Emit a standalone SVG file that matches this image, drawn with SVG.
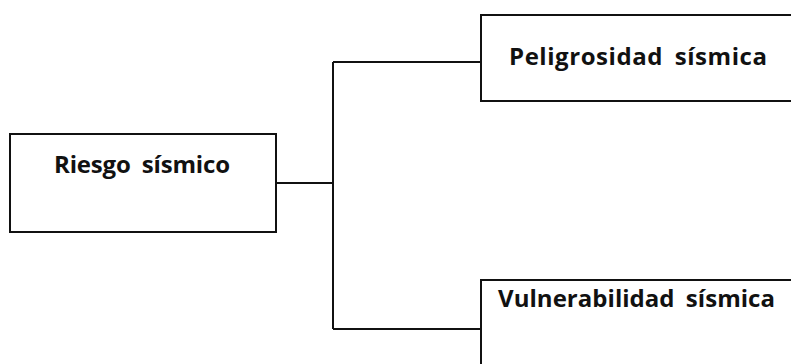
<svg xmlns="http://www.w3.org/2000/svg" width="791" height="364" viewBox="0 0 791 364">
<style>
.box{fill:#fff;stroke:#111;stroke-width:2}
.lbl{font-family:"Open Sans","Liberation Sans",sans-serif;font-weight:bold;font-size:24px;fill:#111;word-spacing:5px}
.con{fill:none;stroke:#111;stroke-width:2}
</style>
<rect width="791" height="364" fill="#fff"/>
<g id="connectors">
<path class="con" d="M276,183 H333"/>
<path class="con" d="M333,62 V329"/>
<path class="con" d="M333,62 H481"/>
<path class="con" d="M333,329 H481"/>
</g>
<g id="riesgo">
<rect class="box" x="10" y="134" width="266" height="98"/>
<text class="lbl" x="54" y="173" textLength="176" lengthAdjust="spacing">Riesgo sísmico</text>
</g>
<g id="peligrosidad">
<rect class="box" x="481" y="15" width="320" height="86"/>
<text class="lbl" x="509" y="65" textLength="258" lengthAdjust="spacing">Peligrosidad sísmica</text>
</g>
<g id="vulnerabilidad">
<rect class="box" x="481" y="280" width="320" height="100"/>
<text class="lbl" x="498" y="307" textLength="277" lengthAdjust="spacing">Vulnerabilidad sísmica</text>
</g>
</svg>
